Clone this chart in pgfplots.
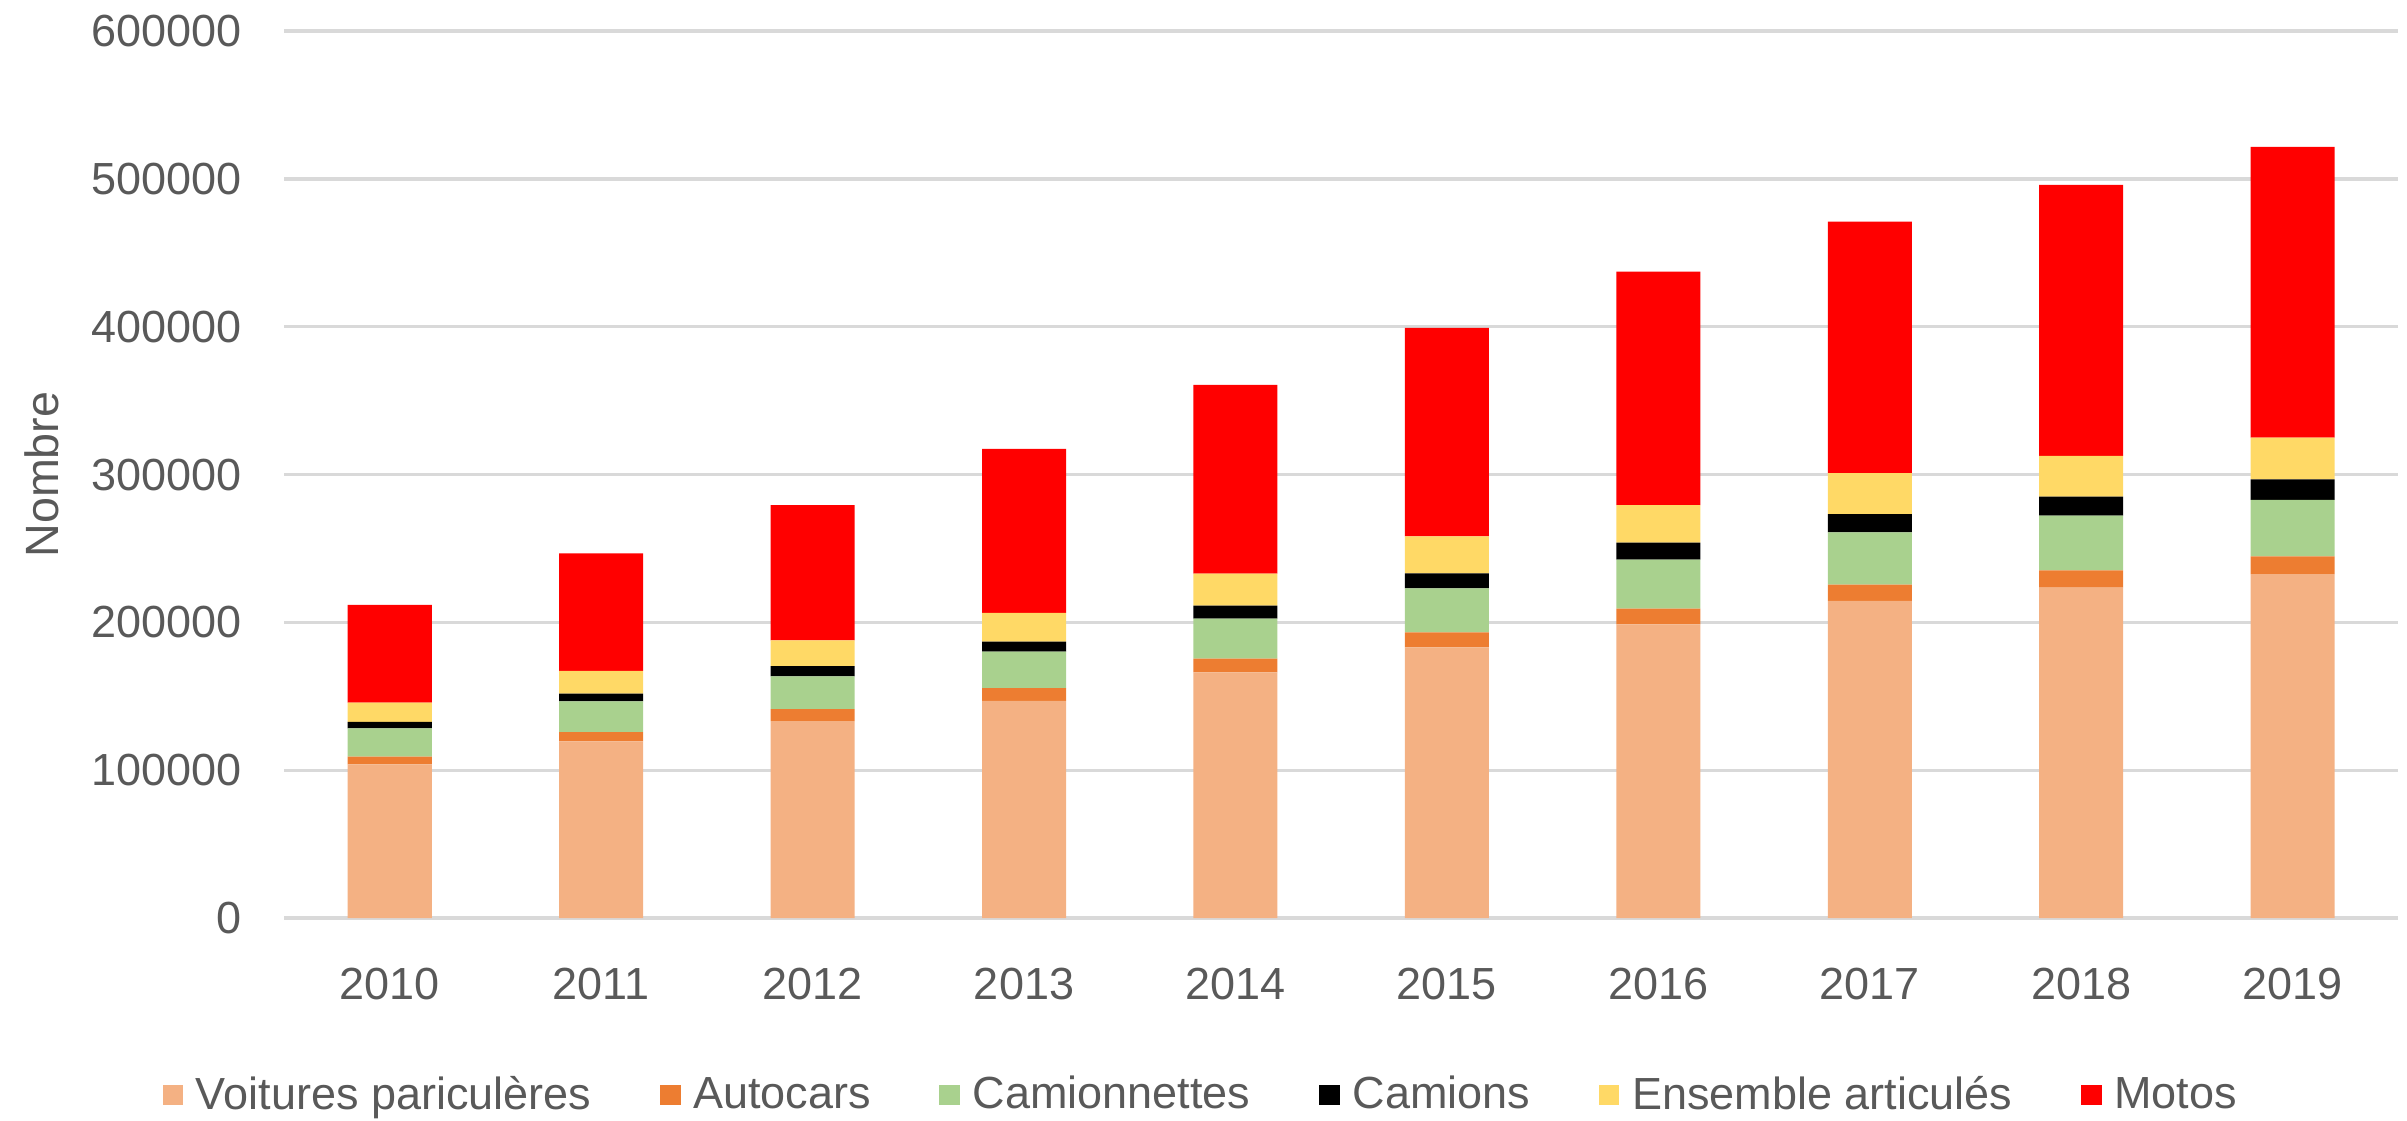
\documentclass[border=0pt]{standalone}
\usepackage{pgfplots}
\pgfplotsset{compat=1.18}
\usepackage{fontspec}
\setmainfont{Liberation Sans}
\definecolor{txt}{HTML}{595959}
\definecolor{gridc}{HTML}{D9D9D9}
\definecolor{cVoit}{HTML}{F4B183}
\definecolor{cAuto}{HTML}{ED7D31}
\definecolor{cCamt}{HTML}{A9D18E}
\definecolor{cCam}{HTML}{000000}
\definecolor{cEns}{HTML}{FFD966}
\definecolor{cMoto}{HTML}{FF0000}
\begin{document}
\begin{tikzpicture}
\begin{axis}[
  scale only axis, width=634.2pt, height=266.1pt,
  ybar stacked, bar width=25.2pt,
  xmin=-0.5, xmax=9.5, ymin=0, ymax=600000,
  xtick={0,1,2,3,4,5,6,7,8,9},
  xticklabels={2010,2011,2012,2013,2014,2015,2016,2017,2018,2019},
  ytick={0,100000,200000,300000,400000,500000,600000},
  scaled y ticks=false,
  /pgf/number format/assume math mode=true,
  yticklabel style={/pgf/number format/fixed, /pgf/number format/1000 sep={}, xshift=-9.3pt},
  xticklabel style={yshift=-11.6pt},
  ymajorgrids, grid style={color=gridc, line width=1pt},
  axis line style={draw=none}, major tick length=0pt,
  tick label style={font=\fontsize{13.5}{16}\selectfont, text=txt},
  ylabel={Nombre},
  ylabel style={at={(axis description cs:-0.1146,0.5)}, anchor=center, font=\fontsize{14}{16}\selectfont, text=txt},
  legend columns=6,
  legend style={at={(0.4347,-0.1996)}, anchor=center, draw=none, fill=none,
    font=\fontsize{13.5}{16}\selectfont, text=txt,
    /tikz/every odd column/.append style={column sep=1.8pt},
    /tikz/every even column/.append style={column sep=18.6pt}},
  legend image code/.code={\fill[#1] (0pt,-3pt) rectangle (6.2pt,3.2pt);},
]
\addplot+[fill=cVoit, draw=none] coordinates {(0,104000) (1,119500) (2,133300) (3,147000) (4,166200) (5,183100) (6,198700) (7,214500) (8,223500) (9,232700)};
\addplot+[fill=cAuto, draw=none] coordinates {(0,5200) (1,6300) (2,8100) (3,8600) (4,9300) (5,10200) (6,10600) (7,11000) (8,11700) (9,12000)};
\addplot+[fill=cCamt, draw=none] coordinates {(0,19100) (1,20800) (2,22100) (3,24600) (4,27000) (5,29700) (6,33100) (7,35400) (8,37000) (9,38100)};
\addplot+[fill=cCam, draw=none] coordinates {(0,4500) (1,5200) (2,7000) (3,6800) (4,8800) (5,10200) (6,11600) (7,12400) (8,12900) (9,14000)};
\addplot+[fill=cEns, draw=none] coordinates {(0,12900) (1,15500) (2,17400) (3,19400) (4,21700) (5,25000) (6,25400) (7,27600) (8,27500) (9,28200)};
\addplot+[fill=cMoto, draw=none] coordinates {(0,66100) (1,79400) (2,91500) (3,110900) (4,127600) (5,141000) (6,157900) (7,170200) (8,183300) (9,196600)};
\legend{Voitures paricul\`eres, Autocars, Camionnettes, Camions, Ensemble articul\'es, Motos}
\end{axis}
\pgfresetboundingbox
\path[use as bounding box] (current axis.south west) ++(-85.2pt,-60.6pt) rectangle ++(722pt,336pt);
\end{tikzpicture}
\end{document}
